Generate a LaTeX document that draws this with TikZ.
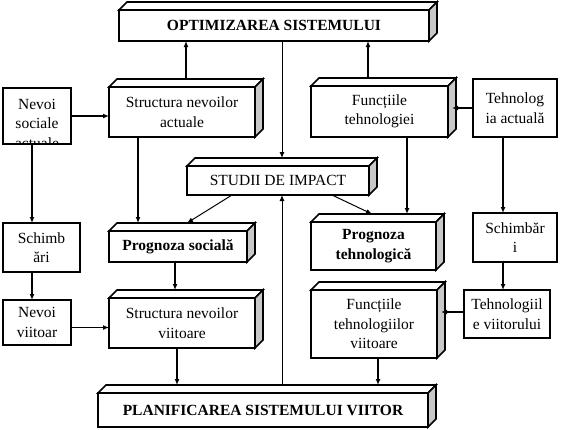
\documentclass[tikz,border=0pt]{standalone}
\usepackage{fontspec}
\setmainfont{Liberation Serif}
\usetikzlibrary{arrows.meta,calc}
\definecolor{sideg}{RGB}{200,200,200}
\tikzset{
 bx/.style={draw, line width=1.6pt, fill=white, inner sep=0pt, outer sep=0pt, align=center, anchor=north west},
 txt/.style={font=\fontsize{15.5}{19.5}\selectfont},
 btxt/.style={font=\fontsize{15.5}{19.5}\selectfont\bfseries},
 face/.style={line width=1.6pt, line join=miter},
 arr/.style={-{Latex[length=6pt,width=5pt]}, line width=1.5pt},
 thinarr/.style={-{Latex[length=6pt,width=5pt]}, line width=1pt},
}
\newcommand\mkcub[7]{%
 \node[bx,#6,minimum width=#4pt,minimum height=#5pt] (#1) at (#2,#3) {#7};
 \filldraw[face,fill=white] (#1.north west) -- ++(8,-8) -- ++(#4,0) -- (#1.north east) -- cycle;
 \filldraw[face,fill=sideg] (#1.north east) -- ++(8,-8) -- ++(0,#5) -- (#1.south east) -- cycle;
 \coordinate (#1-t) at ($(#1.north)+(4,-8)$);
 \coordinate (#1-r) at ($(#1.east)+(4,0)$);
}
\newcommand\mkbox[6]{%
 \node[bx,txt,minimum width=#4pt,minimum height=#5pt] (#1) at (#2,#3) {#6};
}
\begin{document}
\begin{tikzpicture}[x=1pt,y=-1pt]
\useasboundingbox (0,0) rectangle (564,429);
% 3D boxes
\mkcub{opt}{119}{10}{310}{31}{btxt}{OPTIMIZAREA SISTEMULUI}
\mkcub{sna}{109}{87}{146}{50}{txt}{Structura nevoilor\\actuale}
\mkcub{ft}{311}{86}{137}{51}{txt}{Funcțiile\\tehnologiei}
\mkcub{studii}{187}{166}{182}{29}{txt}{STUDII DE IMPACT}
\mkcub{ps}{109}{231}{138}{31}{btxt}{Prognoza socială}
\mkcub{pt}{311}{222}{125}{48}{btxt}{Prognoza\\tehnologică}
\mkcub{snv}{109}{298}{146}{50}{txt}{Structura nevoilor\\viitoare}
\mkcub{ftv}{311}{290}{126}{68}{txt}{Funcțiile\\tehnologiilor\\viitoare}
\mkcub{plan}{98}{393}{330}{34}{btxt}{PLANIFICAREA SISTEMULUI VIITOR}
% plain boxes
\mkbox{nsa}{3}{88}{68}{56}{}
\begin{scope}
 \clip ($(nsa.north west)+(2,2)$) rectangle ($(nsa.south east)+(-2,-2)$);
 \node[txt, align=center, inner sep=0pt, anchor=north] (nsatext) at ($(nsa.north)+(0,11)$) {Nevoi\\sociale\\actuale};
\end{scope}
\mkbox{sch1}{3}{223}{77}{49}{Schimb\\ări}
\mkbox{nvv}{3}{300}{68}{45}{Nevoi\\viitoar}
\mkbox{ta}{473}{79}{84}{58}{Tehnolog\\ia actuală}
\mkbox{sch2}{473}{213}{84}{49}{Schimbăr\\i}
\mkbox{tv}{464}{290}{86}{48}{Tehnologiil\\e viitorului}
% connectors
\coordinate (c1) at ($(sna.north west)+(77,-8)$);
\draw[arr] (c1) -- (c1 |- opt.south);
\coordinate (c2) at ($(ft.north west)+(57,-8)$);
\draw[arr] (c2) -- (c2 |- opt.south);
\coordinate (c3) at ($(opt.south)+(8,0)$);
\draw[thinarr] (c3) -- (c3 |- studii-t);
\coordinate (c9) at ($(plan.north west)+(184,-8)$);
\draw[thinarr] (c9) -- (c9 |- studii.south);
\draw[arr] (nsa.east) -- (nsa.east -| sna.west);
\coordinate (c5) at ($(nsa.south)+(-5,0)$);
\draw[arr] (c5) -- (c5 |- sch1.north);
\coordinate (c6) at ($(sna.south west)+(29,0)$);
\draw[arr] (c6) -- (c6 |- ps-t);
\coordinate (c7a) at ($(studii.south west)+(45,0)$);
\coordinate (c7b) at ($(ps.north west)+(78,-8)$);
\draw[thinarr] (c7a) -- (c7b);
\coordinate (c8a) at ($(studii.south west)+(145,0)$);
\coordinate (c8b) at ($(pt.north west)+(61,-8)$);
\draw[thinarr] (c8a) -- (c8b);
\coordinate (c10) at ($(ft.south west)+(96,0)$);
\draw[arr] (c10) -- (c10 |- pt-t);
\draw[arr] (ta.west) -- (ta.west -| ft-r);
\coordinate (c12) at ($(ta.south west)+(30,0)$);
\draw[arr] (c12) -- (c12 |- sch2.north);
\coordinate (c13) at ($(sch1.south west)+(29,0)$);
\draw[arr] (c13) -- (c13 |- nvv.north);
\coordinate (c14) at ($(ps.south west)+(66,0)$);
\draw[arr] (c14) -- (c14 |- snv-t);
\coordinate (c15) at ($(nvv.east)+(0,5)$);
\draw[arr] (c15) -- (c15 -| snv.west);
\coordinate (c16) at ($(snv.south west)+(68,0)$);
\draw[arr] (c16) -- (c16 |- plan-t);
\coordinate (c17) at ($(sch2.south west)+(30,0)$);
\draw[arr] (c17) -- (c17 |- tv.north);
\coordinate (c18) at ($(tv.west)+(0,-2)$);
\draw[arr] (c18) -- (c18 -| ftv-r);
\coordinate (c19) at ($(ftv.south west)+(67,0)$);
\draw[arr] (c19) -- (c19 |- plan-t);
\end{tikzpicture}
\end{document}
